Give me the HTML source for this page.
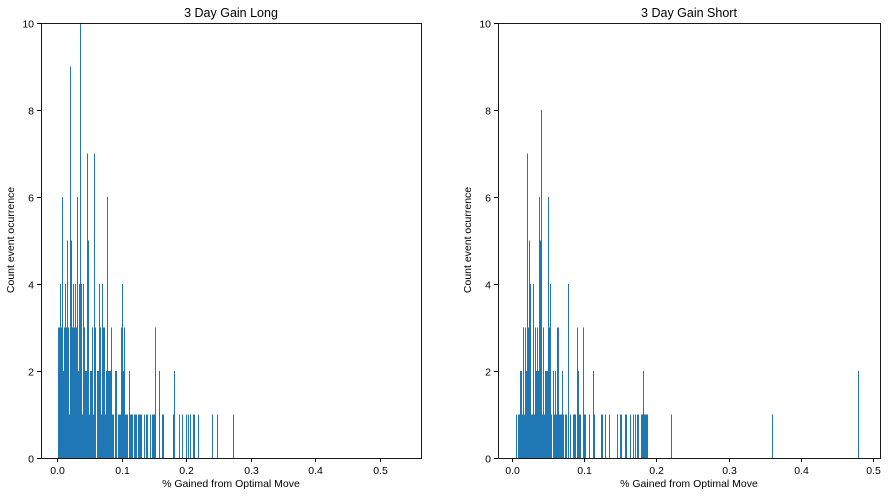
<!DOCTYPE html>
<html><head><meta charset="utf-8"><style>
body{margin:0;background:#fff;width:889px;height:496px;overflow:hidden}
svg text{font-family:"Liberation Sans",sans-serif;font-size:10.5px;fill:#000}
</style></head><body>
<svg id="chart" width="889" height="496"></svg>
<script>
// ---- data ----
const xTicks=[0,0.1,0.2,0.3,0.4,0.5];
const xTickLabels=["0.0","0.1","0.2","0.3","0.4","0.5"];
const yTicks=[0,2,4,6,8,10];
const longBinStart=0.0016;
const longBinWidth=0.00155;
const longCounts=[3,3,4,3,6,2,3,4,3,5,3,1,9,5,3,4,3,4,3,6,2,4,10,4,1,4,3,2,2,7,5,1,2,2,3,1,7,3,0,2,2,4,3,1,4,3,3,1,2,6,2,2,2,3,1,1,0,2,2,0,1,1,1,3,4,2,3,1,1,1,0,2,1,1,1,0,1,1,1,0,1,1,1,1,0,0,1,0,1,1,0,0,1,0,1,1,1,3,0,0,0,2,0,0,1,1];
const longTailValues=[0.1796,0.1811,0.1889,0.1935,0.1997,0.2028,0.2059,0.2105,0.2121,0.2183,0.2399,0.2477,0.2724];
const longTailCounts=[1,2,1,1,1,1,1,1,1,1,1,1,1];
const shortBinStart=0.00554;
const shortBinWidth=0.001385;
const shortCounts=[1,0,1,1,2,2,1,3,1,3,2,7,3,5,4,1,1,4,1,3,2,3,2,6,5,8,1,3,1,2,2,2,6,3,4,1,0,2,1,2,1,3,3,1,1,1,2,1,0,1,1,0,4,0,1,0,0,1,1,1,0,3,2,1,1,0,0,3,1,1,0,0,0,1,0,0,0,2,1,0,0,0,0,0,0,1,1,0,0,1,0,0,0,1];
const shortTailValues=[0.1454,0.1496,0.1510,0.1565,0.1579,0.1634,0.1676,0.1704,0.1731,0.1745,0.1787,0.1801,0.1814,0.1828,0.1842,0.1856,0.1870,0.2202,0.3601,0.4792];
const shortTailCounts=[1,1,1,1,1,1,1,1,1,1,1,1,2,1,1,1,1,1,1,2];

const NS="http://www.w3.org/2000/svg";
const svg=document.getElementById('chart');
function mk(tag,attrs,parent){const e=document.createElementNS(NS,tag);for(const k in attrs)e.setAttribute(k,attrs[k]);(parent||svg).appendChild(e);return e;}

function panel(cfg){
  const g=mk('g',{});
  
  
  const top=23,bottom=458;
  const xs=v=>cfg.x0+v*cfg.scale;
  const ys=c=>bottom-c*(bottom-top)/10;
  const bw=Math.max(cfg.binW*cfg.scale,1);
  const bars=mk('g',{'shape-rendering':'crispEdges'},g);
  
  
  function bar(v,c){
    if(c<=0)return;
    const r=mk('rect',{x:xs(v),y:ys(c),width:bw,height:bottom-ys(c),fill:'#1f77b4'},bars);
    
    
  }
  cfg.counts.forEach((c,i)=>bar(cfg.start+i*cfg.binW,c));
  cfg.tailV.forEach((v,i)=>bar(v,cfg.tailC[i]));
  const fr=mk('rect',{x:cfg.left+0.5,y:top+0.5,width:cfg.right-cfg.left,height:bottom-top,fill:'none',stroke:'#000','stroke-width':0.9},g);
  
  
  xTicks.forEach((t,i)=>{
    const x=Math.round(xs(t))+0.5;
    mk('line',{x1:x,x2:x,y1:bottom,y2:bottom+4,stroke:'#000'},g);
    const tx=mk('text',{x:x,y:bottom+16,'text-anchor':'middle'},g);
    tx.textContent=xTickLabels[i];
    
    
  });
  yTicks.forEach(t=>{
    const y=Math.round(ys(t))+0.5;
    mk('line',{x1:cfg.left-4,x2:cfg.left,y1:y,y2:y,stroke:'#000'},g);
    const tx=mk('text',{x:cfg.left-7,y:y+4,'text-anchor':'end'},g);
    tx.textContent=t;
    
    
  });
  const ti=mk('text',{x:(cfg.left+cfg.right)/2,y:17,'text-anchor':'middle',style:'font-size:12.5px'},g);
  ti.textContent=cfg.title;
  
  
  const xl=mk('text',{x:(cfg.left+cfg.right)/2,y:487,'text-anchor':'middle'},g);
  xl.textContent='% Gained from Optimal Move';
  
  
  const yl=mk('text',{x:0,y:0,'text-anchor':'middle',transform:`translate(${cfg.left-27},240) rotate(-90)`},g);
  yl.textContent='Count event ocurrence';
  
  
}
panel({name:'long-gain-panel',title:'3 Day Gain Long',left:41,right:421,x0:57,scale:646,start:longBinStart,binW:longBinWidth,counts:longCounts,tailV:longTailValues,tailC:longTailCounts});
panel({name:'short-gain-panel',title:'3 Day Gain Short',left:498,right:880,x0:512,scale:722,start:shortBinStart,binW:shortBinWidth,counts:shortCounts,tailV:shortTailValues,tailC:shortTailCounts});
</script>
</body></html>
